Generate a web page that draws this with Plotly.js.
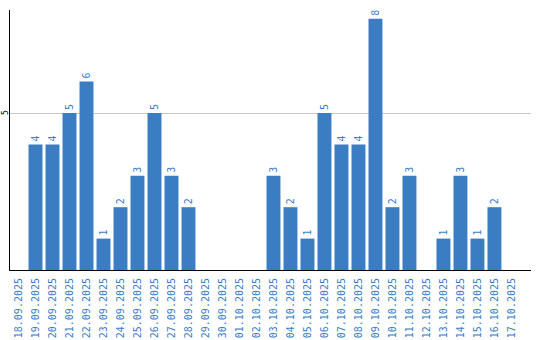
<!DOCTYPE html>
<html><head><meta charset="utf-8">
<script src="https://cdn.plot.ly/plotly-3.0.1.min.js"></script>
<style>html,body{margin:0;padding:0;background:#fff}</style>
</head><body><div id="chart" style="width:540px;height:340px"></div>
<script>
const dates = ["18.09.2025","19.09.2025","20.09.2025","21.09.2025","22.09.2025","23.09.2025","24.09.2025","25.09.2025","26.09.2025","27.09.2025","28.09.2025","29.09.2025","30.09.2025","01.10.2025","02.10.2025","03.10.2025","04.10.2025","05.10.2025","06.10.2025","07.10.2025","08.10.2025","09.10.2025","10.10.2025","11.10.2025","12.10.2025","13.10.2025","14.10.2025","15.10.2025","16.10.2025","17.10.2025"];
const counts = [0,4,4,5,6,1,2,3,5,3,2,0,0,0,0,3,2,1,5,4,4,8,2,3,0,1,3,1,2,0];
const yTicks = [5];
const labels = counts.map(v => v > 0 ? String(v) : "");
const blue = "#3a7dc2";
const trace = {
  type: "bar", x: dates, y: counts, text: labels,
  textposition: "outside", textangle: -90, cliponaxis: false,
  textfont: {family: "DejaVu Sans Mono", size: 10, color: blue},
  marker: {color: blue}, hoverinfo: "none"
};
const layout = {
  width: 540, height: 340,
  margin: {l: 10, r: 9, t: 10, b: 70},
  paper_bgcolor: "#fff", plot_bgcolor: "#fff",
  showlegend: false, bargap: 0.18,
  font: {family: "DejaVu Sans Mono", size: 10, color: "#000"},
  xaxis: {type: "category", range: [-0.5, 30.15], tickangle: -90, showline: true, linecolor: "#000", linewidth: 1,
          showgrid: false, ticks: "", ticklabelstandoff: 3,
          tickfont: {family: "DejaVu Sans Mono", size: 10, color: blue}},
  yaxis: {range: [0, 8.28], tickvals: yTicks, showticklabels: false, showline: true, linecolor: "#000", linewidth: 1,
          gridcolor: "#c8c8c8", zeroline: false, ticks: ""},
  annotations: yTicks.map(t => ({
    xref: "paper", yref: "y", x: 0, y: t, text: String(t), showarrow: false,
    xanchor: "center", yanchor: "middle", xshift: -5, textangle: -90, borderpad: 0,
    font: {family: "DejaVu Sans Mono", size: 8, color: "#000"}
  }))
};
Plotly.newPlot("chart", [trace], layout, {staticPlot: true, displayModeBar: false});
</script></body></html>
